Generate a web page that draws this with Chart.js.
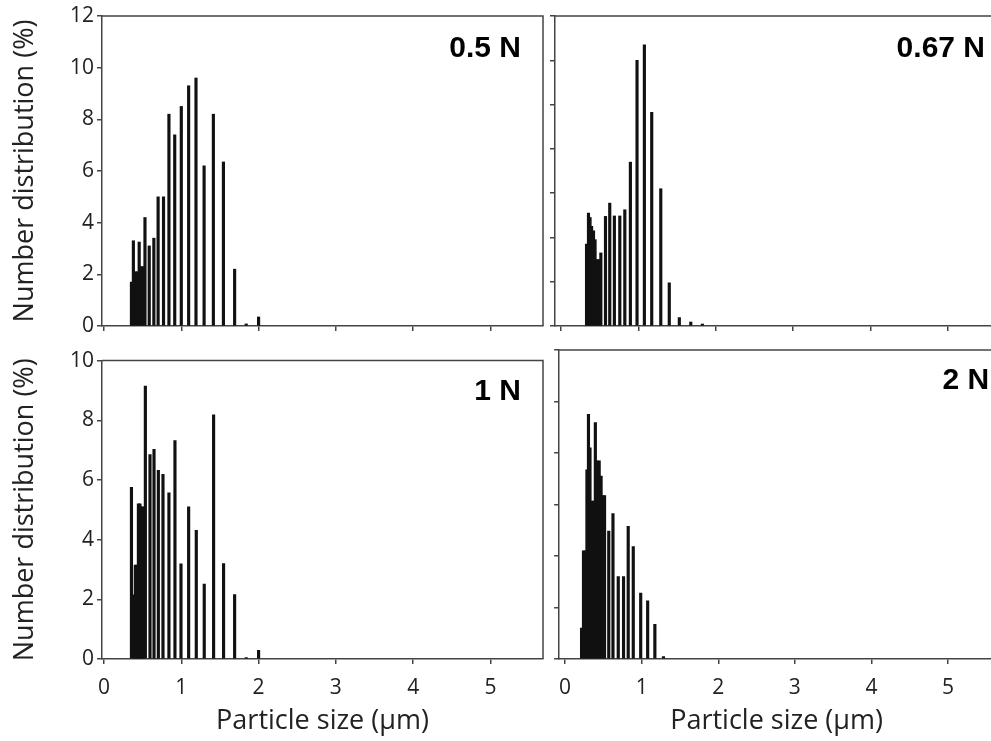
<!DOCTYPE html>
<html>
<head>
<meta charset="utf-8">
<script src="https://cdn.jsdelivr.net/npm/chart.js@4.4.1/dist/chart.umd.min.js"></script>
<style>
  html, body { margin: 0; padding: 0; background: #fff; overflow: hidden; }
  #wrap { position: relative; width: 991px; height: 741px; overflow: hidden; background: #fff; }
  .panel { position: absolute; }
</style>
</head>
<body>
<div id="wrap">
  <div class="panel" style="left:0;top:0"><canvas id="c05" width="548" height="345"></canvas></div>
  <div class="panel" style="left:548px;top:0"><canvas id="c067" width="450" height="345"></canvas></div>
  <div class="panel" style="left:0;top:345px"><canvas id="c1" width="548" height="396"></canvas></div>
  <div class="panel" style="left:548px;top:345px"><canvas id="c2" width="450" height="396"></canvas></div>
</div>
<script>
'use strict';

// --- data (particle size in µm, number distribution in %) ---
const size05 = [0.355, 0.38, 0.405, 0.43, 0.455, 0.48, 0.505, 0.53, 0.585, 0.645, 0.70, 0.77, 0.84, 0.915, 1.0, 1.095, 1.19, 1.295, 1.415, 1.545, 1.69, 1.84, 2.0];
const dist05 = [1.7, 3.3, 2.1, 2.1, 3.25, 2.3, 2.3, 4.2, 3.1, 3.4, 5.0, 5.0, 8.2, 7.4, 8.5, 9.3, 9.6, 6.2, 8.2, 6.35, 2.2, 0.08, 0.35];

const size067 = [0.33, 0.355, 0.375, 0.395, 0.42, 0.44, 0.465, 0.49, 0.515, 0.575, 0.63, 0.69, 0.76, 0.825, 0.897, 0.983, 1.078, 1.173, 1.29, 1.40, 1.53, 1.678, 1.828];
const dist067 = [3.7, 5.1, 4.9, 4.5, 4.3, 3.9, 3.0, 3.0, 3.3, 4.95, 5.55, 4.97, 4.97, 5.25, 7.4, 12.0, 12.7, 9.65, 6.2, 1.95, 0.38, 0.18, 0.09];

const size1 = [0.355, 0.38, 0.405, 0.425, 0.445, 0.465, 0.485, 0.505, 0.535, 0.595, 0.647, 0.703, 0.763, 0.84, 0.918, 0.996, 1.095, 1.194, 1.297, 1.418, 1.547, 1.69, 1.84, 2.0];
const dist1 = [5.75, 2.15, 3.15, 3.15, 5.2, 5.2, 5.1, 5.1, 9.15, 6.85, 7.03, 6.32, 6.19, 5.57, 7.32, 3.19, 5.1, 4.31, 2.51, 8.18, 3.2, 2.16, 0.05, 0.29];

const size2 = [0.215, 0.24, 0.26, 0.285, 0.305, 0.325, 0.35, 0.37, 0.395, 0.42, 0.445, 0.47, 0.495, 0.515, 0.57, 0.625, 0.694, 0.763, 0.824, 0.89, 0.987, 1.078, 1.172, 1.284];
const dist2 = [1.2, 4.2, 4.2, 7.35, 9.5, 8.2, 6.13, 6.13, 9.18, 7.7, 7.7, 7.1, 6.35, 6.35, 4.97, 5.65, 3.2, 3.2, 5.15, 4.37, 2.56, 2.26, 1.35, 0.09];

const xTicks = [0, 1, 2, 3, 4, 5];
const yTicks05 = [0, 2, 4, 6, 8, 10, 12];
const yTicks067 = [0, 2, 4, 6, 8, 10, 12, 14];
const yTicks1 = [0, 2, 4, 6, 8, 10];
const yTicks2 = [0, 2, 4, 6, 8, 10, 12];

const panelLabels = ['0.5 N', '0.67 N', '1 N', '2 N'];
const xTitle = 'Particle size (μm)';
const yTitle = 'Number distribution (%)';

Chart.defaults.font.family = "'Open Sans', sans-serif";
Chart.defaults.color = '#222';

const axisColor = '#444';

// draws top/right edges of the plot box and the condition label
const boxPlugin = {
    id: 'box',
    afterDraw(chart, args, opts) {
        const { ctx, chartArea: a } = chart;
        ctx.save();
        ctx.strokeStyle = axisColor;
        ctx.lineWidth = 1.5;
        ctx.beginPath();
        ctx.moveTo(a.left, a.top);
        ctx.lineTo(a.right, a.top);
        ctx.lineTo(a.right, a.bottom);
        ctx.stroke();
        ctx.fillStyle = '#000';
        ctx.font = "bold 30px 'Liberation Sans', Arial, sans-serif";
        ctx.textAlign = 'right';
        ctx.textBaseline = 'alphabetic';
        ctx.fillText(opts.text, a.left + opts.dx, a.top + opts.dy);
        ctx.restore();
    }
};

function makePanel(id, p) {
    return new Chart(document.getElementById(id), {
        type: 'bar',
        data: {
            datasets: [{
                data: p.sizes.map((s, i) => ({ x: s, y: p.values[i] })),
                backgroundColor: '#111',
                borderWidth: 0,
                barThickness: 2.5
            }]
        },
        options: {
            responsive: false,
            animation: false,
            layout: { padding: p.padding },
            plugins: {
                legend: { display: false },
                tooltip: { enabled: false },
                box: { text: p.label, dx: p.labelDx, dy: p.labelDy }
            },
            scales: {
                x: {
                    type: 'linear',
                    offset: false,
                    min: p.xMin,
                    max: p.xMax,
                    afterBuildTicks: s => { s.ticks = xTicks.map(v => ({ value: v })); },
                    afterFit: s => { s.height = p.xHeight; },
                    grid: { offset: false, drawOnChartArea: false, tickLength: 5, color: axisColor, lineWidth: 1.5 },
                    border: { color: axisColor, width: 1.5 },
                    ticks: { display: p.showX, padding: 11, maxRotation: 0, font: { size: 21 } },
                    title: { display: p.showX, text: xTitle, font: { size: 27 }, padding: { top: 0, bottom: 3 } }
                },
                y: {
                    min: 0,
                    max: p.yMax,
                    afterBuildTicks: s => { s.ticks = p.yTicks.map(v => ({ value: v })); },
                    afterFit: s => { s.width = p.yWidth; },
                    grid: { drawOnChartArea: false, tickLength: 5, color: axisColor, lineWidth: 1.5 },
                    border: { color: axisColor, width: 1.5 },
                    ticks: { display: p.showY, padding: 3, font: { size: 21 } },
                    title: { display: p.showY, text: yTitle, font: { size: 27 }, padding: { top: 9, bottom: 0 } }
                }
            }
        },
        plugins: [boxPlugin]
    });
}

makePanel('c05', {
    sizes: size05, values: dist05, yTicks: yTicks05, yMax: 12, label: panelLabels[0],
    padding: { left: 0, top: 16, right: 5, bottom: 0 }, yWidth: 102, xHeight: 19,
    xMin: -0.026, xMax: 5.68, showX: false, showY: true, labelDx: 419, labelDy: 41
});
makePanel('c067', {
    sizes: size067, values: dist067, yTicks: yTicks067, yMax: 14, label: panelLabels[1],
    padding: { left: 0, top: 16, right: 4, bottom: 0 }, yWidth: 7, xHeight: 19,
    xMin: -0.078, xMax: 5.60, showX: false, showY: false, labelDx: 430, labelDy: 41
});
makePanel('c1', {
    sizes: size1, values: dist1, yTicks: yTicks1, yMax: 10, label: panelLabels[2],
    padding: { left: 0, top: 5, right: 5, bottom: 0 }, yWidth: 102, xHeight: 82,
    xMin: -0.026, xMax: 5.68, showX: true, showY: true, labelDx: 419, labelDy: 39
});
makePanel('c2', {
    sizes: size2, values: dist2, yTicks: yTicks2, yMax: 12, label: panelLabels[3],
    padding: { left: 0, top: 5, right: 4, bottom: 0 }, yWidth: 7, xHeight: 82,
    xMin: -0.078, xMax: 5.60, showX: true, showY: false, labelDx: 430, labelDy: 39
});
</script>
</body>
</html>
